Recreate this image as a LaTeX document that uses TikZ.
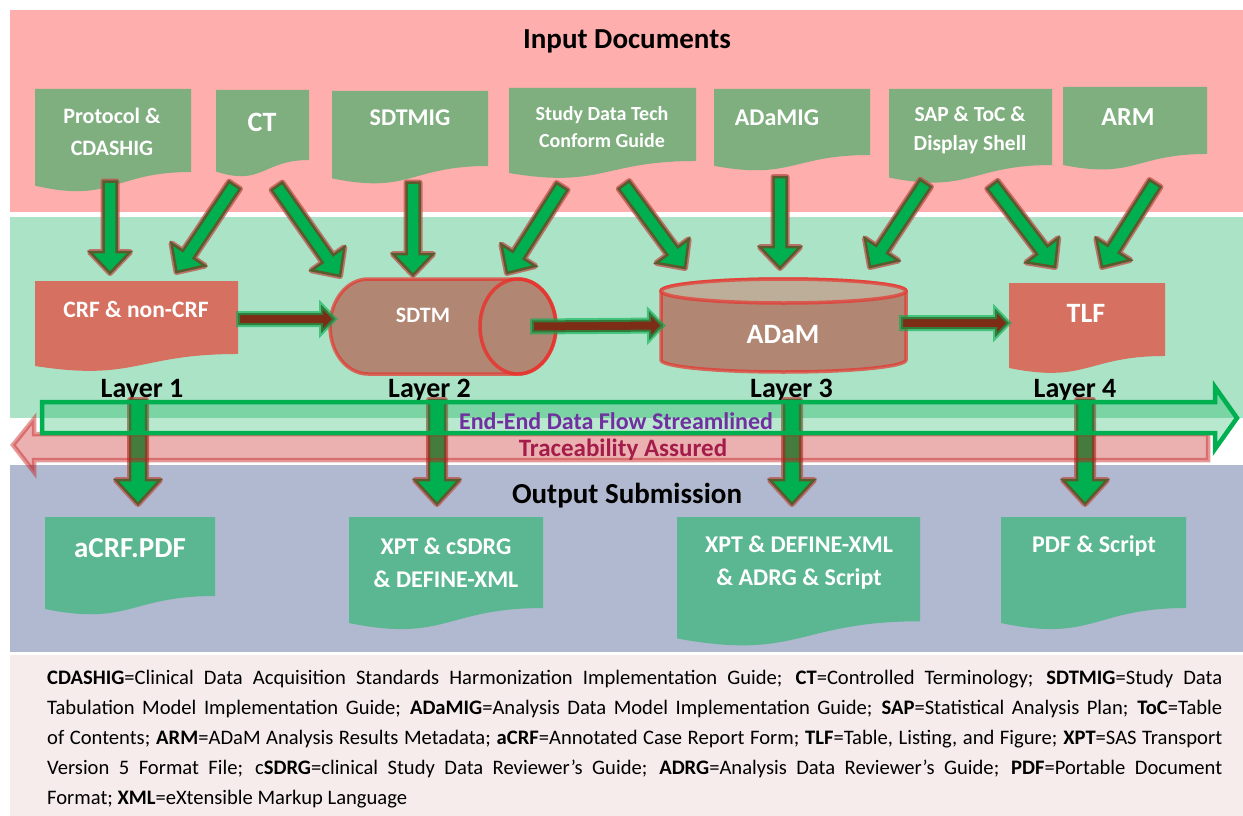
\documentclass[tikz,border=0pt]{standalone}
\usepackage{fontspec}
\setmainfont{Carlito}
\usetikzlibrary{calc,positioning}

\definecolor{inband}{RGB}{255,174,174}
\definecolor{midband}{RGB}{170,227,197}
\definecolor{outband}{RGB}{176,185,207}
\definecolor{noteband}{RGB}{246,236,236}
\definecolor{indoc}{RGB}{127,175,127}
\definecolor{outdoc}{RGB}{91,183,145}
\definecolor{layerdoc}{RGB}{214,112,96}
\definecolor{drumbody}{RGB}{177,134,115}
\definecolor{drumtop}{RGB}{188,174,152}
\definecolor{drumline}{RGB}{232,52,46}
\definecolor{arrowgreen}{RGB}{0,176,80}
\definecolor{arrowolive}{RGB}{88,92,44}
\definecolor{glowred}{RGB}{192,80,77}
\definecolor{flowred}{RGB}{125,44,22}
\definecolor{streampurple}{RGB}{112,48,160}
\definecolor{tracered}{RGB}{198,29,29}
\definecolor{tracetext}{RGB}{163,28,74}

\tikzset{
  docbox/.style={rectangle, inner sep=0pt, outer sep=0pt, anchor=north west},
  doctext/.style={text=white, align=center},
  title/.style={font=\bfseries\fontsize{29}{32}\selectfont},
  layerlabel/.style={anchor=base, font=\bfseries\fontsize{28}{30}\selectfont},
  drum/.style={fill=drumbody, draw=drumline, draw opacity=.7, line width=3.5pt},
  greenglow/.style={draw=glowred, draw opacity=.75, line width=6pt, line join=round},
  greenbody/.style={fill=arrowgreen, draw=arrowolive, line width=2.5pt},
  flowbody/.style={fill=flowred, draw=arrowgreen, draw opacity=.6, line width=4pt},
  streamband/.style={fill=arrowgreen, fill opacity=.28, draw=arrowgreen, draw opacity=1, line width=4.5pt},
  traceband/.style={fill=tracered, fill opacity=.35, draw=tracered, draw opacity=.45, line width=4.5pt},
}

% wavy-bottom document outline around a docbox node
\newcommand{\docshape}[2]{%
  \fill[#2] (#1.north west) -- (#1.north east) -- ($(#1.north east)!.802!(#1.south east)$)
    .. controls ($(#1.north)!.802!(#1.south)$) and ($(#1.north)!1.1075!(#1.south)$)
    .. ($(#1.north west)!.934!(#1.south west)$) -- cycle;}

% block arrow outline between (ap-a) and (ap-b), head starts at (ap-h)
\newcommand{\arrowshape}[2]{%
  ($(ap-a)!#1!90:(ap-b)$) -- ($(ap-h)!#1!90:(ap-b)$) -- ($(ap-h)!#2!90:(ap-b)$) -- (ap-b)
  -- ($(ap-h)!#2!-90:(ap-b)$) -- ($(ap-h)!#1!-90:(ap-b)$) -- ($(ap-a)!#1!-90:(ap-b)$) -- cycle}

\newcommand{\greenarrow}[2]{%
  \coordinate (ap-a) at #1; \coordinate (ap-b) at #2;
  \coordinate (ap-h) at ($(ap-b)!21pt!(ap-a)$);
  \draw[greenglow] \arrowshape{6.5pt}{20pt};
  \draw[greenbody] \arrowshape{6.5pt}{20pt};}

\newcommand{\layerarrow}[2]{%
  \coordinate (ap-a) at #1; \coordinate (ap-b) at #2;
  \coordinate (ap-h) at ($(ap-b)!24pt!(ap-a)$);
  \draw[greenglow] \arrowshape{8pt}{22pt};
  \draw[greenbody] \arrowshape{8pt}{22pt};}

\newcommand{\flowarrow}[2]{%
  \coordinate (ap-a) at #1; \coordinate (ap-b) at #2;
  \coordinate (ap-h) at ($(ap-b)!14pt!(ap-a)$);
  \draw[flowbody] \arrowshape{6pt}{14.5pt};}

\begin{document}
\begin{tikzpicture}[x=1pt, y=-1pt]
  \useasboundingbox (0,0) rectangle (1243,816);
  \fill[white] (0,0) rectangle (1243,816);

  % bands
  \fill[inband] (10,10) rectangle (1243,212);
  \fill[midband] (10,217) rectangle (1243,418);
  \fill[outband] (10,465) rectangle (1243,652);
  \fill[noteband] (10,655) rectangle (1243,816);

  \node[title] (intitle) at (627,41) {Input Documents};
  \node[title] (outtitle) at (627,496) {Output Submission};

  % input documents
  \node[docbox, minimum width=156, minimum height=103.5] (prot) at (35,89) {};
  \docshape{prot}{indoc}
  \node[doctext, font=\bfseries\fontsize{22}{32}\selectfont] (prot-t) at (112,132) {Protocol \&\\CDASHIG};

  \node[docbox, minimum width=93, minimum height=87.3] (ct) at (216,90) {};
  \docshape{ct}{indoc}
  \node[doctext, font=\bfseries\fontsize{28}{30}\selectfont] (ct-t) at (262,122) {CT};

  \node[docbox, minimum width=156, minimum height=93.5] (sdtmig) at (332,91) {};
  \docshape{sdtmig}{indoc}
  \node[doctext, font=\bfseries\fontsize{24}{28}\selectfont] (sdtmig-t) at (410,118) {SDTMIG};

  \node[docbox, minimum width=187, minimum height=91] (sdtcg) at (509,88) {};
  \docshape{sdtcg}{indoc}
  \node[doctext, font=\bfseries\fontsize{20}{27}\selectfont] (sdtcg-t) at (602,127) {Study Data Tech\\Conform Guide};

  \node[docbox, minimum width=156, minimum height=82.3] (adamig) at (714,89) {};
  \docshape{adamig}{indoc}
  \node[doctext, font=\bfseries\fontsize{24}{28}\selectfont] (adamig-t) at (777,118) {ADaMIG};

  \node[docbox, minimum width=163, minimum height=94.8] (sap) at (889,89) {};
  \docshape{sap}{indoc}
  \node[doctext, font=\bfseries\fontsize{21.5}{29}\selectfont] (sap-t) at (970,130) {SAP \& ToC \&\\Display Shell};

  \node[docbox, minimum width=144, minimum height=83.5] (arm) at (1063,87) {};
  \docshape{arm}{indoc}
  \node[doctext, font=\bfseries\fontsize{26}{30}\selectfont] (arm-t) at (1128,117) {ARM};

  % layers
  \node[docbox, minimum width=203, minimum height=91] (crf) at (35,281) {};
  \docshape{crf}{layerdoc}
  \node[doctext, font=\bfseries\fontsize{23.5}{28}\selectfont] (crf-t) at (136,309) {CRF \& non-CRF};

  \node[docbox, minimum width=226, minimum height=95] (sdtm) at (330,279) {};
  \draw[drum] ($(sdtm.north west)+(38,0)$) -- ($(sdtm.north east)+(-38,0)$)
    arc[start angle=90, end angle=-90, x radius=38pt, y radius=47.5pt]
    -- ($(sdtm.south west)+(38,0)$)
    arc[start angle=270, end angle=90, x radius=38pt, y radius=47.5pt] -- cycle;
  \draw[drumline, line width=3.5pt, opacity=.85] ($(sdtm.east)+(-38,0)$) ellipse [x radius=38pt, y radius=47.5pt];
  \node[doctext, font=\bfseries\fontsize{22}{26}\selectfont] (sdtm-t) at (423,315) {SDTM};

  \node[docbox, minimum width=245, minimum height=93] (adam) at (661,279) {};
  \draw[drum] ($(adam.north west)+(0,12)$) -- ($(adam.south west)+(0,-12)$)
    arc[start angle=180, end angle=360, x radius=122.5pt, y radius=12pt]
    -- ($(adam.north east)+(0,12)$)
    arc[start angle=0, end angle=180, x radius=122.5pt, y radius=12pt] -- cycle;
  \draw[drum, fill=drumtop] ($(adam.north)+(0,12)$) ellipse [x radius=122.5pt, y radius=12pt];
  \node[doctext, font=\bfseries\fontsize{28}{32}\selectfont] (adam-t) at (783,335) {ADaM};

  \node[docbox, minimum width=156, minimum height=91] (tlf) at (1009,283) {};
  \docshape{tlf}{layerdoc}
  \node[doctext, font=\bfseries\fontsize{28}{32}\selectfont] (tlf-t) at (1086,313) {TLF};

  \node[layerlabel] (lay1) at (142,397) {Layer 1};
  \node[layerlabel] (lay2) at (429.5,397) {Layer 2};
  \node[layerlabel] (lay3) at (791.5,397) {Layer 3};
  \node[layerlabel] (lay4) at (1075,397) {Layer 4};

  % documents feeding the layers
  \greenarrow{($(prot.south)+(-3,-11)$)}{($(crf.north)+(-26.5,-8)$)}
  \greenarrow{($(ct.south)+(-28,8)$)}{($(crf.north)+(40,-9)$)}
  \greenarrow{($(ct.south)+(14.5,9)$)}{($(sdtm.north west)+(10,-3)$)}
  \greenarrow{($(sdtmig.south)+(3,-2)$)}{($(sdtm.north)+(-30,-4)$)}
  \greenarrow{($(sdtcg.south)+(-40.5,7.5)$)}{($(sdtm.north east)+(-49,-6)$)}
  \greenarrow{($(sdtcg.south)+(21.5,6)$)}{($(adam.north west)+(24,-11)$)}
  \greenarrow{($(adamig.south)+(-12,5.7)$)}{($(adam.north)+(-3.5,-11)$)}
  \greenarrow{($(sap.south)+(-45,-0.5)$)}{($(adam.north east)+(-36,-12)$)}
  \greenarrow{($(sap.south)+(22,1)$)}{($(tlf.north)+(-32,-16)$)}
  \greenarrow{($(arm.south)+(20,13)$)}{($(tlf.north)+(15,-16)$)}

  % layer to layer
  \flowarrow{($(crf.east)+(0,-7.5)$)}{($(sdtm.west)+(5,-7.5)$)}
  \flowarrow{($(sdtm.east)+(-24,0)$)}{($(adam.west)+(2,0)$)}
  \flowarrow{($(adam.east)+(-5,-2.5)$)}{($(tlf.west)+(0,-5.5)$)}

  % output documents
  \node[docbox, minimum width=170, minimum height=98.5] (acrf) at (45,517) {};
  \docshape{acrf}{outdoc}
  \node[doctext, font=\bfseries\fontsize{29}{32}\selectfont] (acrf-t) at (130,548) {aCRF.PDF};

  \node[docbox, minimum width=194, minimum height=113.5] (xptsd) at (349,517) {};
  \docshape{xptsd}{outdoc}
  \node[doctext, font=\bfseries\fontsize{24}{33}\selectfont] (xptsd-t) at (446,562.5) {XPT \& cSDRG\\\& DEFINE-XML};

  \node[docbox, minimum width=243, minimum height=130] (xptad) at (677,517) {};
  \docshape{xptad}{outdoc}
  \node[doctext, font=\bfseries\fontsize{24}{33}\selectfont] (xptad-t) at (799,562.5) {XPT \& DEFINE-XML\\\& ADRG \& Script};

  \node[docbox, minimum width=185, minimum height=113.5] (pdfs) at (1001,517) {};
  \docshape{pdfs}{outdoc}
  \node[doctext, font=\bfseries\fontsize{24}{28}\selectfont] (pdfs-t) at (1094,546) {PDF \& Script};

  % layers to submission
  \layerarrow{($(lay1.base)+(-4,3)$)}{($(acrf.north)+(8,-13)$)}
  \layerarrow{($(lay2.base)+(7.5,3)$)}{($(xptsd.north)+(-9,-13)$)}
  \layerarrow{($(lay3.base)+(0.5,3)$)}{($(xptad.north)+(-6.5,-13)$)}
  \layerarrow{($(lay4.base)+(10,3)$)}{($(pdfs.north)+(-8.5,-13)$)}

  % streamline and traceability bands
  \draw[traceband] (13,445) -- (34,419) -- (34,434) -- (1208,434) -- (1208,460) -- (34,460) -- (34,472) -- cycle;
  \draw[streamband] (42,402) -- (1215,402) -- (1215,387) -- (1237,418) -- (1215,449) -- (1215,433) -- (42,433) -- cycle;
  \node[text=streampurple, font=\bfseries\fontsize{24}{28}\selectfont] (stream-t) at (616,421) {End-End Data Flow Streamlined};
  \node[text=tracetext, font=\bfseries\fontsize{25}{28}\selectfont] (trace-t) at (623,450) {Traceability Assured};

  % abbreviations
  \node[anchor=north west, inner sep=0pt, text width=1175pt, align=justify,
        font=\fontsize{20.6}{30}\selectfont] (notes) at (47,670)
   {\hyphenpenalty=10000\tolerance=9999
    \textbf{CDASHIG}=Clinical Data Acquisition Standards Harmonization Implementation Guide; \textbf{CT}=Controlled Terminology; \textbf{SDTMIG}=Study Data\linebreak
    Tabulation Model Implementation Guide; \textbf{ADaMIG}=Analysis Data Model Implementation Guide; \textbf{SAP}=Statistical Analysis Plan; \textbf{ToC}=Table\linebreak
    of Contents; \textbf{ARM}=ADaM Analysis Results Metadata; \textbf{aCRF}=Annotated Case Report Form; \textbf{TLF}=Table, Listing, and Figure; \textbf{XPT}=SAS Transport\linebreak
    Version 5 Format File; c\textbf{SDRG}=clinical Study Data Reviewer’s Guide; \textbf{ADRG}=Analysis Data Reviewer’s Guide; \textbf{PDF}=Portable Document\linebreak
    Format; \textbf{XML}=eXtensible Markup Language};
\end{tikzpicture}
\end{document}
